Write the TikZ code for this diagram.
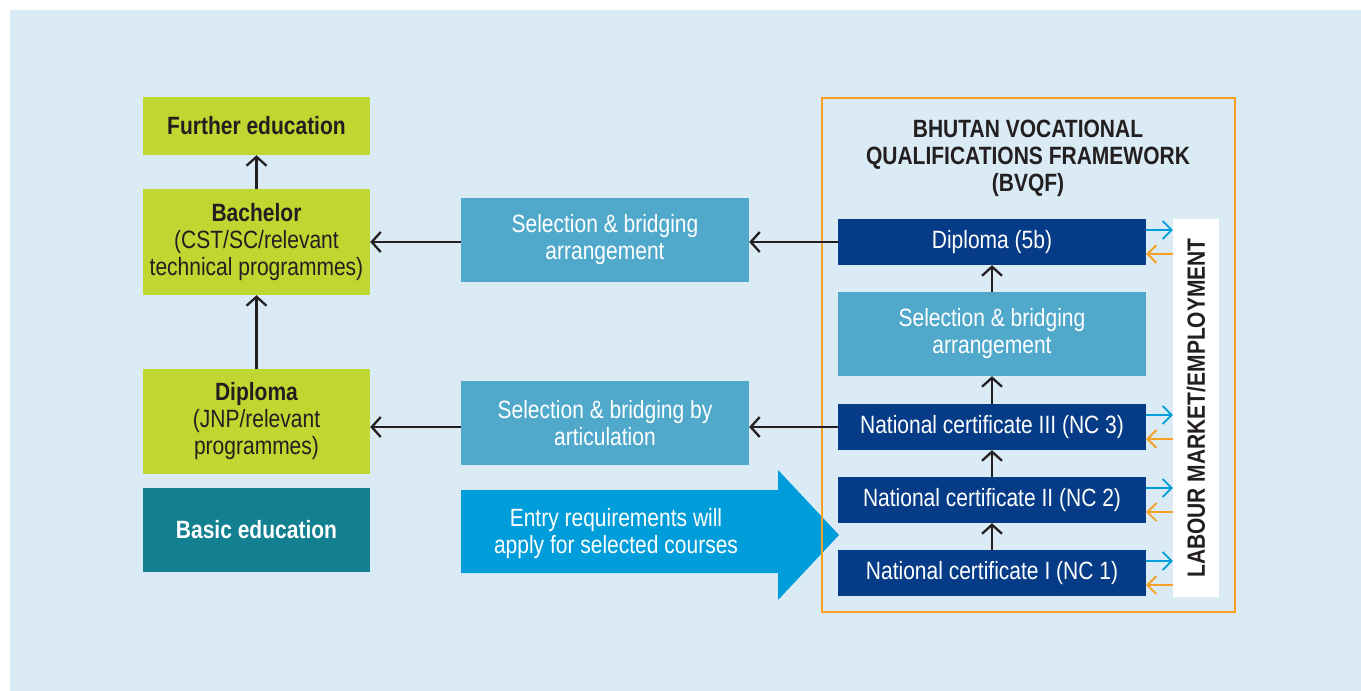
\documentclass[tikz,border=0pt]{standalone}
\usepackage{fontspec}
\setmainfont[FakeStretch=0.84]{Liberation Sans}
\usetikzlibrary{arrows.meta}

\begin{document}
\begin{tikzpicture}[x=1pt, y=-1pt,
        box/.style={rectangle, align=center, inner sep=0pt, font=\fontsize{25}{27}\selectfont},
        edu/.style={box, fill=lime, text=ink, minimum width=227pt},
        bridge/.style={box, fill=bridgeblue, text=white, minimum width=288pt, minimum height=84pt},
        level/.style={box, fill=navy, text=white, minimum width=308pt, minimum height=46pt},
        arr/.style={-{Straight Barb[length=9pt,width=20pt]}, line width=2.3pt, ink},
        small/.style={-{Straight Barb[length=9pt,width=18pt]}, line width=1.8pt}]

            \xdefinecolor{bg}{RGB}{218, 235, 246}
            \xdefinecolor{lime}{RGB}{191, 215, 48}
            \xdefinecolor{teal}{RGB}{19, 128, 145}
            \xdefinecolor{bridgeblue}{RGB}{80, 169, 203}
            \xdefinecolor{navy}{RGB}{6, 60, 135}
            \xdefinecolor{entry}{RGB}{0, 157, 219}
            \xdefinecolor{frame}{RGB}{247, 160, 34}
            \xdefinecolor{ink}{RGB}{35, 31, 32}

            % Background
            \useasboundingbox (0, 0) rectangle (1361, 691);
            \fill[bg] (10, 10) rectangle (1361, 691);

            % Left column
            \node[edu, minimum height=58pt] (Further) at (256.5, 126) {\textbf{Further education}};
            \node[edu, minimum height=106pt] (Bachelor) at (256.5, 242) {\textbf{Bachelor}\\(CST/SC/relevant\\technical programmes)};
            \node[edu, minimum height=105pt] (Diploma) at (256.5, 421.5) {\textbf{Diploma}\\(JNP/relevant\\programmes)};
            \node[box, fill=teal, text=white, minimum width=227pt, minimum height=84pt] (Basic) at (256.5, 530) {\textbf{Basic education}};
            \draw[arr] (Bachelor.north) -- (Further.south);
            \draw[arr] (Diploma.north) -- (Bachelor.south);

            % Middle column
            \node[bridge] (BridgeTop) at (605, 240) {Selection \& bridging\\arrangement};
            \node[bridge] (Articulation) at (605, 423) {Selection \& bridging by\\articulation};
            \fill[entry] (461, 490) -- (778, 490) -- (778, 470) -- (839, 535) -- (778, 600) -- (778, 573) -- (461, 573) -- cycle;
            \node[box, text=white] (Entry) at (616, 534) {Entry requirements will\\apply for selected courses};

            % BVQF frame
            \draw[frame, line width=2.8pt] (822, 98) rectangle (1235, 612);
            \node[box, text=ink] (Title) at (1028, 158) {\textbf{BHUTAN VOCATIONAL}\\\textbf{QUALIFICATIONS FRAMEWORK}\\\textbf{(BVQF)}};
            \node[level] (Dip5b) at (992, 242) {Diploma (5b)};
            \node[box, fill=bridgeblue, text=white, minimum width=308pt, minimum height=84pt] (BridgeRight) at (992, 334) {Selection \& bridging\\arrangement};
            \foreach \name/\y/\txt in {NC3/427/National certificate III (NC 3), NC2/500/National certificate II (NC 2), NC1/573/National certificate I (NC 1)} {
                    \node[level] (\name) at (992, \y) {\txt};
                }
            \node[box, fill=white, text=ink, rotate=90, minimum width=378pt, minimum height=46pt] (Labour) at (1196, 408) {\textbf{LABOUR MARKET/EMPLOYMENT}};

            % Progression inside the framework
            \draw[arr] (NC1.north) -- (NC2.south);
            \draw[arr] (NC2.north) -- (NC3.south);
            \draw[arr] (NC3.north) -- (BridgeRight.south);
            \draw[arr] (BridgeRight.north) -- (Dip5b.south);

            % Links to higher education
            \draw[arr] (Dip5b.west) -- (Dip5b.west -| BridgeTop.east);
            \draw[arr] (BridgeTop.west |- Dip5b.west) -- (Dip5b.west -| Bachelor.east);
            \draw[arr] (NC3.west) -- (NC3.west -| Articulation.east);
            \draw[arr] (Articulation.west |- NC3.west) -- (NC3.west -| Diploma.east);

            % Labour market in and out
            \foreach \name in {Dip5b, NC3, NC2, NC1} {
                    \draw[small, entry] ([yshift=12pt]\name.east) -- ([yshift=12pt]\name.east -| Labour.north);
                    \draw[small, frame] ([yshift=-12pt]\name.east -| Labour.north) -- ([yshift=-12pt]\name.east);
                }

        \end{tikzpicture}
\end{document}
